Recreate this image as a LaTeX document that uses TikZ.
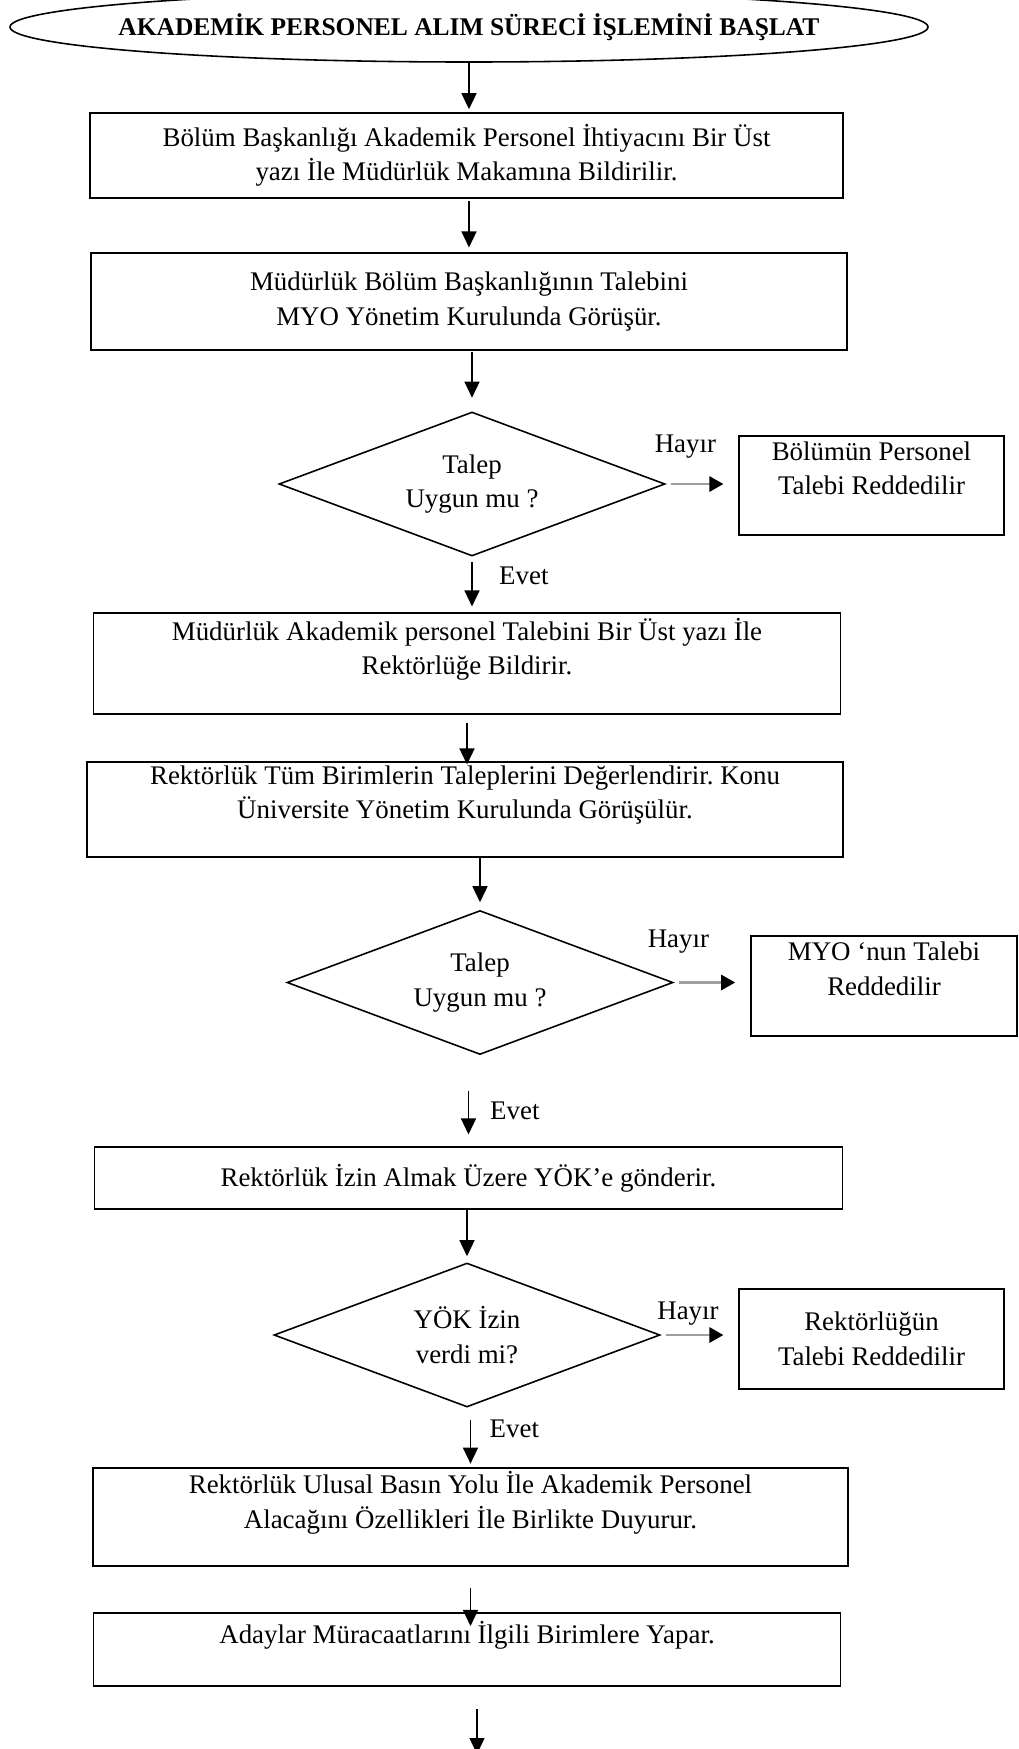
\documentclass[tikz,border=0pt]{standalone}
\usepackage{fontspec}
\setmainfont{Liberation Serif}
\usepackage{tikz}
\usetikzlibrary{
  arrows.meta,
  shapes.geometric,
  positioning,
  calc
}
\frenchspacing

\begin{document}
\begin{tikzpicture}[
  term/.style={draw, ellipse, line width=0.9pt, minimum width=18.36cm, minimum height=1.4cm,
               inner sep=0pt, font=\fontsize{14.5}{18}\selectfont\bfseries},
  box/.style={draw, line width=0.9pt, minimum width=15.05cm, align=center, inner sep=2pt,
              font=\fontsize{15.3}{19.6}\selectfont},
  dec/.style={draw, diamond, aspect=2.68, line width=0.9pt, minimum width=7.72cm, minimum height=2.88cm,
              inner sep=0pt, align=center, font=\fontsize{15.3}{19.6}\selectfont},
  rej/.style={draw, line width=0.9pt, minimum width=5.29cm, minimum height=1.99cm,
              align=center, inner sep=2pt, font=\fontsize{15.3}{19.6}\selectfont},
  arr/.style={-{Triangle[length=0.32cm, width=0.3cm]}, line width=0.8pt},
  grayarr/.style={-{Triangle[length=0.28cm, width=0.3cm, color=black]}, draw=gray!75,
                  line width=1.6pt, shorten <=0.1cm, shorten >=0.3cm},
  note/.style={font=\fontsize{15.3}{19.6}\selectfont, inner sep=0pt}
]
  \useasboundingbox (0,0) rectangle (20.38,-34.98);

  \node[term] (start) at (9.38,-0.54) {\makebox[0pt]{AKADEMİK PERSONEL ALIM SÜRECİ İŞLEMİNİ BAŞLAT}};
  \node[box, minimum width=15.07cm, minimum height=1.70cm] (b1) at (9.33,-3.11)
    {Bölüm Başkanlığı Akademik Personel İhtiyacını Bir Üst\\ yazı İle Müdürlük Makamına Bildirilir.};
  \node[box, minimum width=15.11cm, minimum height=1.93cm] (b2) at (9.38,-6.03)
    {Müdürlük Bölüm Başkanlığının Talebini\\ MYO Yönetim Kurulunda Görüşür.};
  \node[dec] (d1) at (9.44,-9.68) {Talep\\ Uygun mu ?};
  \node[rej] (r1) at (17.43,-9.71) {Bölümün Personel\\ Talebi Reddedilir\\ ~};
  \node[box, minimum width=14.94cm, minimum height=2.03cm] (b3) at (9.34,-13.27)
    {Müdürlük Akademik personel Talebini Bir Üst yazı İle\\ Rektörlüğe Bildirir.\\ ~};
  \node[box, minimum width=15.11cm, minimum height=1.91cm] (b4) at (9.30,-16.19)
    {Rektörlük Tüm Birimlerin Taleplerini Değerlendirir. Konu\\ Üniversite Yönetim Kurulunda Görüşülür.\\ ~};
  \node[dec] (d2) at (9.60,-19.65) {Talep\\ Uygun mu ?};
  \node[rej, minimum width=5.32cm] (r2) at (17.68,-19.72) {MYO ‘nun Talebi\\ Reddedilir\\ ~};
  \node[box, minimum width=14.96cm, minimum height=1.25cm] (b5) at (9.37,-23.56)
    {Rektörlük İzin Almak Üzere YÖK’e gönderir.};
  \node[dec] (d3) at (9.34,-26.70) {YÖK İzin\\ verdi mi?};
  \node[rej, minimum height=2.00cm] (r3) at (17.43,-26.78) {Rektörlüğün\\ Talebi Reddedilir};
  \node[box, minimum width=15.09cm, minimum height=1.91cm] (b6) at (9.41,-30.34)
    {Rektörlük Ulusal Basın Yolu İle Akademik Personel\\ Alacağını Özellikleri İle Birlikte Duyurur.\\ ~};
  \node[box, minimum width=14.94cm, minimum height=1.45cm] (b7) at (9.34,-32.99)
    {Adaylar Müracaatlarını İlgili Birimlere Yapar.\\ ~};
  \coordinate (fin) at (9.54,-35.08);

  \draw[arr, shorten >=0.06cm] (start.south) -- (start.south |- b1.north);
  \draw[arr, shorten <=0.04cm, shorten >=0.1cm] (b2.north |- b1.south) -- (b2.north);
  \draw[arr, shorten <=0.03cm, shorten >=0.27cm] (d1.north |- b2.south) -- (d1.north);
  \draw[grayarr] (d1.east) -- node[note, anchor=base, pos=0.27, yshift=0.64cm]{Hayır} (d1.east -| r1.west);
  \draw[arr, shorten <=0.11cm, shorten >=0.11cm] (d1.south) -- node[note, right=0.53cm, pos=0.34]{Evet} (d1.south |- b3.north);
  \draw[arr, shorten <=0.15cm, shorten >=-0.07cm] (b3.south) -- (b3.south |- b4.north);
  \draw[arr, shorten >=0.15cm] (d2.north |- b4.south) -- (d2.north);
  \draw[grayarr] (d2.east) -- node[note, anchor=base, pos=0.06, yshift=0.70cm]{Hayır} (d2.east -| r2.west);
  \draw[arr, shorten <=0.71cm, shorten >=0.23cm] (b5.north |- d2.south) -- node[note, right=0.42cm, pos=0.61]{Evet} (b5.north);
  \draw[arr, shorten >=0.12cm] (d3.north |- b5.south) -- (d3.north);
  \draw[grayarr] (d3.east) -- node[note, anchor=base, pos=0.35, yshift=0.31cm]{Hayır} (d3.east -| r3.west);
  \draw[arr, shorten <=0.25cm, shorten >=0.07cm] (b6.north |- d3.south) -- node[note, right=0.37cm, pos=0.35]{Evet} (b6.north);
  \draw[arr, shorten <=0.42cm, shorten >=-0.27cm] (b6.south) -- (b6.south |- b7.north);
  \draw[arr, shorten <=0.45cm] (fin |- b7.south) -- (fin);
\end{tikzpicture}
\end{document}
